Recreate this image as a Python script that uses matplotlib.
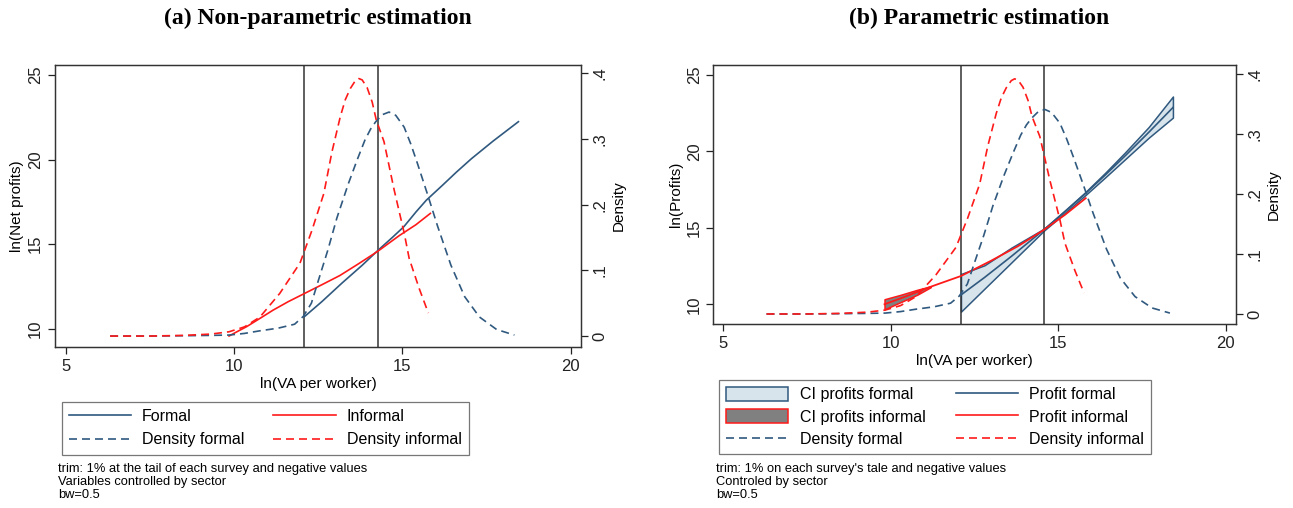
import matplotlib
matplotlib.use("Agg")
import matplotlib.pyplot as plt
from matplotlib.patches import Patch
from matplotlib.lines import Line2D

plt.rcParams["font.family"] = ["Liberation Sans", "DejaVu Sans"]

# kernel densities (right axis), same in both panels
dens_f_x = [6.3, 7.5, 8.5, 9.3, 9.84, 10.3, 10.76, 11.3, 11.79, 12.05, 12.29, 12.5, 12.78,
            13.05, 13.39, 13.65, 13.88, 14.05, 14.2, 14.4, 14.6, 14.8, 15.05, 15.25, 15.45,
            15.75, 16.04, 16.44, 16.85, 17.29, 17.8, 18.33]
dens_f_y = [0.0, 0.0, 0.0005, 0.001, 0.0015, 0.004, 0.008, 0.012, 0.018, 0.03, 0.05, 0.085,
            0.131, 0.18, 0.232, 0.268, 0.298, 0.315, 0.326, 0.337, 0.341, 0.336, 0.318,
            0.292, 0.262, 0.215, 0.168, 0.108, 0.060, 0.029, 0.010, 0.0015]
dens_i_x = [6.3, 7.5, 8.5, 9.3, 9.84, 10.3, 10.76, 11.35, 11.95, 12.3, 12.66, 12.9, 13.15,
            13.3, 13.45, 13.6, 13.7, 13.8, 13.95, 14.1, 14.22, 14.45, 14.75, 15.05, 15.2,
            15.5, 15.77]
dens_i_y = [0.0, 0.0, 0.001, 0.003, 0.0065, 0.014, 0.029, 0.065, 0.111, 0.16, 0.217, 0.28,
            0.334, 0.360, 0.377, 0.389, 0.392, 0.390, 0.378, 0.356, 0.329, 0.296, 0.223,
            0.157, 0.118, 0.072, 0.035]

# (a) non-parametric profit curves
np_f_x = [12.08, 12.6, 13.2, 13.8, 14.28, 14.7, 15.04, 15.4, 15.71, 16.2, 16.6, 17.05, 17.7, 18.45]
np_f_y = [10.71, 11.6, 12.7, 13.75, 14.65, 15.4, 16.03, 16.9, 17.6, 18.5, 19.25, 20.05, 21.1, 22.24]
np_i_x = [9.84, 10.1, 10.36, 10.75, 11.15, 11.6, 12.05, 12.6, 13.14, 13.7, 14.28, 14.9, 15.4, 15.83]
np_i_y = [9.57, 9.85, 10.12, 10.6, 11.1, 11.6, 12.05, 12.6, 13.15, 13.85, 14.6, 15.5, 16.15, 16.82]
np_vlines = [12.08, 14.27]

# (b) parametric profit curves with confidence intervals
p_f_x = [12.1, 12.8, 13.6, 14.58, 15.2, 15.8, 16.4, 17.0, 17.7, 18.42]
p_f_y = [10.61, 11.75, 13.13, 14.89, 16.06, 17.22, 18.45, 19.72, 21.25, 22.87]
p_f_lo = [9.52, 11.02, 12.73, 14.83, 15.98, 17.12, 18.3, 19.5, 20.9, 22.21]
p_f_hi = [11.98, 12.55, 13.7, 14.95, 16.14, 17.32, 18.6, 19.95, 21.6, 23.59]
p_i_x = [9.82, 10.5, 11.2, 12.1, 13.0, 13.8, 14.58, 15.2, 15.82]
p_i_y = [10.0, 10.55, 11.15, 11.85, 12.85, 13.8, 14.88, 15.85, 16.94]
ci_i_x = [9.82, 10.3, 10.8, 11.2]
ci_i_lo = [9.67, 10.14, 10.63, 11.12]
ci_i_hi = [10.33, 10.62, 10.95, 11.18]
p_vlines = [12.1, 14.58]

navy = "#30597f"
red = "#ff1a1a"
ci_fill = "#d8e4ec"

fig = plt.figure(figsize=(12.93, 5.08), dpi=100)
ax1 = fig.add_axes([0.0425, 0.3169, 0.4068, 0.5551])
ax2 = fig.add_axes([0.5518, 0.3622, 0.4041, 0.5098])


def style(ax, axd, ylab):
    ax.set_xticks([5, 10, 15, 20])
    ax.set_yticks([10, 15, 20, 25])
    axd.set_yticks([0, 0.1, 0.2, 0.3, 0.4])
    axd.set_yticklabels(["0", ".1", ".2", ".3", ".4"])
    for a in (ax, axd):
        a.tick_params(direction="out", length=5, width=0.9, labelsize=12, colors="#222222")
        for s in a.spines.values():
            s.set_color("#333333")
            s.set_linewidth(0.9)
    for lab in ax.get_yticklabels() + axd.get_yticklabels():
        lab.set_rotation(90)
        lab.set_va("center")
    ax.set_xlabel("ln(VA per worker)", fontsize=11, labelpad=2)
    ax.set_ylabel(ylab, fontsize=11, labelpad=3)
    axd.set_ylabel("Density", fontsize=11, labelpad=3)


dash = (4.8, 3.0)
title_kw = dict(fontsize=17, fontweight="bold", family="Liberation Serif")

# panel (a)
ax1d = ax1.twinx()
for v in np_vlines:
    ax1.axvline(v, color="#333333", lw=1.1)
ax1.plot(np_f_x, np_f_y, color=navy, lw=1.2)
ax1.plot(np_i_x, np_i_y, color=red, lw=1.2)
ax1d.plot(dens_f_x, dens_f_y, color=navy, lw=1.2, dashes=dash)
ax1d.plot(dens_i_x, dens_i_y, color=red, lw=1.2, dashes=dash)
ax1.set_xlim(4.66, 20.31)
ax1.set_ylim(8.92, 25.59)
ax1d.set_ylim(-0.0167, 0.4126)
style(ax1, ax1d, "ln(Net profits)")
fig.text(318 / 1293, 1 - 18 / 508, "(a) Non-parametric estimation", ha="center", va="center",
         **title_kw)

# panel (b)
ax2d = ax2.twinx()
for v in p_vlines:
    ax2.axvline(v, color="#333333", lw=1.1)
ax2.fill_between(p_f_x, p_f_lo, p_f_hi, facecolor=ci_fill, edgecolor=navy, lw=1.1)
ax2.fill_between(ci_i_x, ci_i_lo, ci_i_hi, facecolor="#808080", edgecolor=red, lw=1.1)
ax2.plot(p_f_x, p_f_y, color=navy, lw=1.2)
ax2.plot(p_i_x, p_i_y, color=red, lw=1.3)
ax2d.plot(dens_f_x, dens_f_y, color=navy, lw=1.2, dashes=dash)
ax2d.plot(dens_i_x, dens_i_y, color=red, lw=1.2, dashes=dash)
ax2.set_xlim(4.72, 20.30)
ax2.set_ylim(8.71, 25.65)
ax2d.set_ylim(-0.0167, 0.415)
style(ax2, ax2d, "ln(Profits)")
fig.text(979 / 1293, 1 - 18 / 508, "(b) Parametric estimation", ha="center", va="center",
         **title_kw)

# legends
h_f = Line2D([], [], color=navy, lw=1.2)
h_i = Line2D([], [], color=red, lw=1.2)
h_df = Line2D([], [], color=navy, lw=1.2, dashes=dash)
h_di = Line2D([], [], color=red, lw=1.2, dashes=dash)
leg_kw = dict(loc="upper left", ncol=2, fontsize=11.5, frameon=True, fancybox=False,
              edgecolor="#555555", handletextpad=0.7, borderaxespad=0)
leg1 = fig.legend([h_f, h_df, h_i, h_di],
                  ["Formal", "Density formal", "Informal", "Density informal"],
                  bbox_to_anchor=(61.5 / 1293, 1 - 401.5 / 508), columnspacing=1.8,
                  handlelength=3.9, labelspacing=0.55, borderpad=0.45, **leg_kw)
leg1.get_frame().set_linewidth(0.9)

h_cf = Patch(facecolor=ci_fill, edgecolor=navy, lw=1.1)
h_ci = Patch(facecolor="#808080", edgecolor=red, lw=1.1)
leg2 = fig.legend([h_cf, h_ci, h_df, h_f, h_i, h_di],
                  ["CI profits formal", "CI profits informal", "Density formal",
                   "Profit formal", "Profit informal", "Density informal"],
                  bbox_to_anchor=(719 / 1293, 1 - 379.5 / 508), columnspacing=1.9,
                  handlelength=3.9, labelspacing=0.42, borderpad=0.45, handleheight=1.0,
                  **leg_kw)
leg2.get_frame().set_linewidth(0.9)

notes1 = ["trim: 1% at the tail of each survey and negative values",
          "Variables controlled by sector", "bw=0.5"]
notes2 = ["trim: 1% on each survey's tale and negative values",
          "Controled by sector", "bw=0.5"]
for i, t in enumerate(notes1):
    fig.text(58 / 1293, 1 - (469 + 12.8 * i) / 508, t, fontsize=9.3, va="center")
for i, t in enumerate(notes2):
    fig.text(716 / 1293, 1 - (469 + 12.8 * i) / 508, t, fontsize=9.3, va="center")

fig.savefig("out.png", dpi=100)
